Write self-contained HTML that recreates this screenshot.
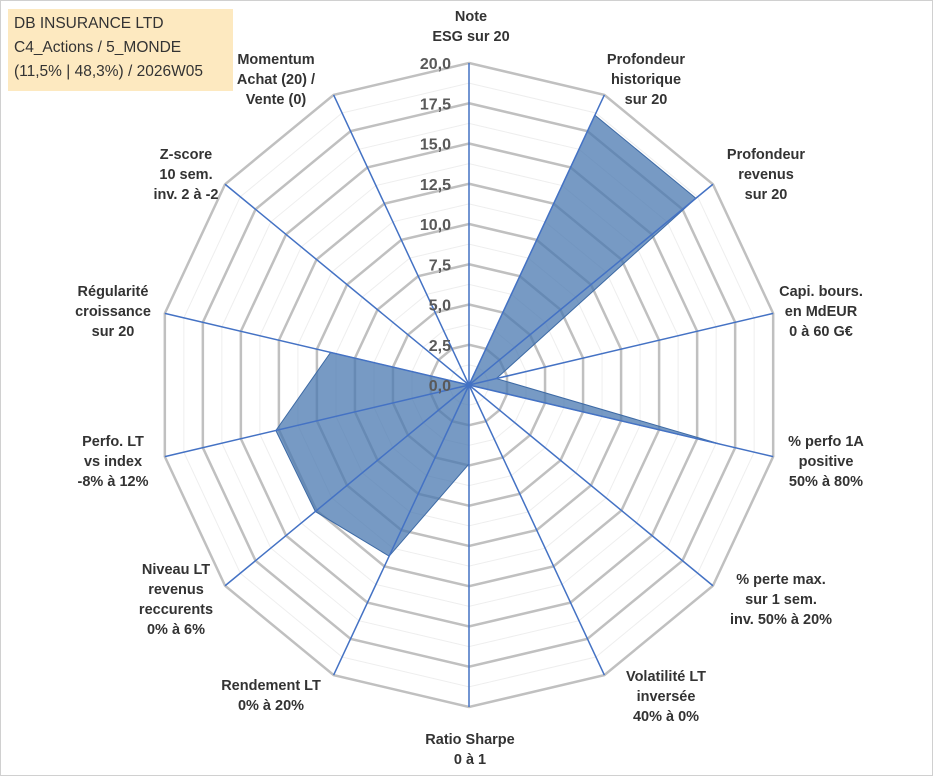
<!DOCTYPE html>
<html><head><meta charset="utf-8"><style>
body{margin:0;background:#fff;}
#wrap{position:relative;width:931px;height:774px;border:1px solid #d0d0d0;overflow:hidden;font-family:"Liberation Sans",sans-serif;}
#title{position:absolute;left:7px;top:8px;width:225px;height:82px;background:#fde9c0;font-size:15.5px;line-height:24px;color:#333;padding:3px 0 0 6px;box-sizing:border-box;}
</style></head><body>
<div id="wrap">
<svg id="chart" width="931" height="774"></svg>
<div id="title">DB INSURANCE LTD<br>C4_Actions / 5_MONDE<br>(11,5% | 48,3%) / 2026W05</div>
</div>
<script>
const categories=[["Note","ESG sur 20"],["Profondeur","historique","sur 20"],["Profondeur","revenus","sur 20"],["Capi. bours.","en MdEUR","0 à 60 G€"],["% perfo 1A","positive","50% à 80%"],["% perte max.","sur 1 sem.","inv. 50% à 20%"],["Volatilité LT","inversée","40% à 0%"],["Ratio Sharpe","0 à 1"],["Rendement LT","0% à 20%"],["Niveau LT","revenus","reccurents","0% à 6%"],["Perfo. LT","vs index","-8% à 12%"],["Régularité","croissance","sur 20"],["Z-score","10 sem.","inv. 2 à -2"],["Momentum","Achat (20) /","Vente (0)"]];
const values=[0,18.6,18.6,1.8,16.6,0,0,4.9,11.8,12.6,12.7,9.1,0,0];
const tickLabels=["0,0","2,5","5,0","7,5","10,0","12,5","15,0","17,5","20,0"];
const labelX=[470,645,765,820,825,780,665,469,270,175,112,112,185,275];
const labelY=[20,63,158,295,445,583,680,743,689,573,445,295,158,63];
const maxV=20;
const svg=document.getElementById('chart');
const NS='http://www.w3.org/2000/svg';
const cx=468,cy=384,RX=312,RY=322,N=categories.length;
function ang(i){return i*2*Math.PI/N;}
function pt(i,v){const f=v/maxV;return [cx+f*RX*Math.sin(ang(i)),cy-f*RY*Math.cos(ang(i))];}
function mk(t,a){const e=document.createElementNS(NS,t);for(const k in a)e.setAttribute(k,a[k]);svg.appendChild(e);return e;}
for(let k=1;k<=16;k++){const v=k*1.25;const pts=categories.map((c,i)=>pt(i,v).join(',')).join(' ');
const e=mk('polygon',{points:pts,fill:'none',stroke:k%2?'#eeeeee':'#c0c0c0','stroke-width':k%2?1:2.5});

}
const dp=mk('polygon',{points:values.map((v,i)=>pt(i,v).join(',')).join(' '),fill:'#4a78b0','fill-opacity':0.75,stroke:'#3d6aa5','stroke-width':1});


categories.forEach((c,i)=>{const p=pt(i,maxV);const e=mk('line',{x1:cx,y1:cy,x2:p[0],y2:p[1],stroke:'#4472c4','stroke-width':1.5});

});
tickLabels.forEach((t,k)=>{const y=cy-k*2.5/maxV*RY;const e=mk('text',{x:cx-18,y:y+6,'text-anchor':'end','font-size':16,'font-weight':'bold',fill:'#595959'});e.textContent=t;

});
categories.forEach((c,i)=>{
const g=mk('text',{x:labelX[i],y:labelY[i],'text-anchor':'middle','font-size':14.5,'font-weight':'bold',fill:'#333'});


c.forEach((ln,j)=>{const ts=document.createElementNS(NS,'tspan');ts.setAttribute('x',labelX[i]);ts.setAttribute('dy',j?20:0);ts.textContent=ln;g.appendChild(ts);});});
</script>
</body></html>
